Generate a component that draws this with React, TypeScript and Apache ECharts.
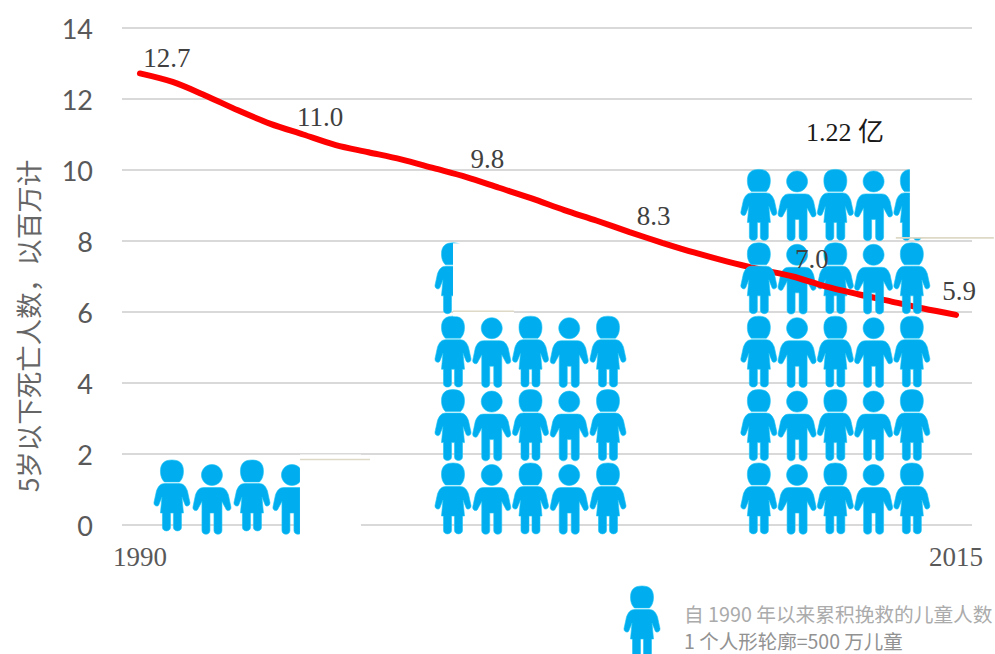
import React, { useEffect, useRef } from "react";
import * as echarts from "echarts";

const years = [1990,1991,1992,1993,1994,1995,1996,1997,1998,1999,2000,2001,2002,2003,2004,2005,2006,2007,2008,2009,2010,2011,2012,2013,2014,2015];
const deaths = [12.72,12.48,12.1,11.68,11.3,11.0,10.7,10.5,10.3,10.05,9.8,9.5,9.2,8.87,8.57,8.25,7.95,7.67,7.42,7.2,7.0,6.72,6.5,6.3,6.1,5.92];
const labelledYears = [1990,1995,2000,2005,2010,2015];
const labelTexts = ["12.7","11.0","9.8","8.3","7.0","5.9"];
const labelOffsets = [[27,-1],[17,-4],[21,-4],[24,-2],[19,-4],[3,-10]];
const xTickLabels = [1990, 2015];
const yTicks = { min: 0, max: 14, interval: 2 };

// one icon = 5 million children; cumulative lives saved shown at three moments
const iconGroupYears = [1990.98, 1999.59, 2008.96];
const iconGroupCounts = [3.7, 15.5, 24.45];
const columnSteps = [40, 38.75, 38.25];
const maskSizes = [[61, 70, 82], [61, 61, 73], [84, 84, 73]];
const maskBottomShift = [0, 0, -5];
const lineShift = [-77, -5, 0];
const frontIcons = [15, 18, 19];

const totalLabel = "1.22 亿";
const yName = "5岁以下死亡人数，以百万计";
const legendLine1 = "自 1990 年以来累积挽救的儿童人数";
const legendLine2 = "1 个人形轮廓=500 万儿童";

const BLUE = "#00AEEF";
const HALO = "#1CC3F4";
const GIRL =
  "M20 0C27 0 31.5 3 31.5 11C31.5 17 29.5 20 27.5 22H12.5C10.5 20 8.5 17 8.5 11C8.5 3 13 0 20 0Z" +
  "M13 23.5H27C32 23.5 34 27 35.5 31L38 42.5C38.5 46 34 47.5 33 44.5L30 37L31.5 53H29.5V67.5C29.5 72 21.5 72 21.5 67.5V53H18.5V67.5C18.5 72 10.5 72 10.5 67.5V53H8.5L10 37L7 44.5C6 47.5 1.5 46 2 42.5L4.5 31C6 27 8 23.5 13 23.5Z";
const BOY =
  "M20 1.5C25.8 1.5 30.5 6.2 30.5 12C30.5 17.8 25.8 22.5 20 22.5C14.2 22.5 9.5 17.8 9.5 12C9.5 6.2 14.2 1.5 20 1.5Z" +
  "M12 24.5H28C33 24.5 35 28 36.5 32L39 44C39.5 47.5 35 49 34 46L30 38.5V67.5C30 72.5 22 72.5 22 67.5V50H18V67.5C18 72.5 10 72.5 10 67.5V38.5L6 46C5 49 0.5 47.5 1 44L3.5 32C5 28 7 24.5 12 24.5Z";

echarts.graphic.registerShape("girlIcon", echarts.graphic.extendPath(GIRL, {}));
echarts.graphic.registerShape("boyIcon", echarts.graphic.extendPath(BOY, {}));

const ROW_STEP = 73.4;
const PER_ROW = 5;
const ICON_W = 40;
const FOOT_DROP = 10;
const iconStyle = { fill: BLUE, stroke: HALO, lineWidth: 0.6 };

function iconItems(group: number, count: number, origin: number[], layer: "back" | "front") {
  const children: any[] = [];
  const n = Math.ceil(count);
  for (let i = 0; i < n; i++) {
    const isFront = group === 2 && frontIcons.includes(i);
    if ((layer === "front") !== isFront) continue;
    const col = i % PER_ROW;
    const row = Math.floor(i / PER_ROW);
    const girl = col % 2 === 0;
    const lift = group === 0 && girl ? 3 : 0;
    children.push({
      type: girl ? "girlIcon" : "boyIcon",
      x: origin[0] + col * columnSteps[group] - ICON_W / 2,
      y: origin[1] + FOOT_DROP - 72 - row * ROW_STEP - lift,
      style: iconStyle,
    });
  }
  return children;
}

function maskItems(group: number, count: number, origin: number[]) {
  const last = Math.ceil(count) - 1;
  const col = last % PER_ROW;
  const row = Math.floor(last / PER_ROW);
  const frac = count - Math.floor(count);
  const left = origin[0] + col * columnSteps[group] - ICON_W / 2 + frac * ICON_W;
  const bottom = origin[1] + FOOT_DROP + 1.5 - row * ROW_STEP + maskBottomShift[group];
  const [w, lineW, h] = maskSizes[group];
  const lineY = bottom + lineShift[group];
  return [
    { type: "rect", shape: { x: left, y: bottom - h, width: w, height: h }, style: { fill: "#ffffff" } },
    {
      type: "line",
      shape: { x1: group === 2 ? left - 14 : left, y1: lineY, x2: left + lineW, y2: lineY },
      style: { stroke: "#DDD9C6", lineWidth: 1.6 },
    },
  ];
}

function makeRender(layer: "back" | "front") {
  return (params: any, api: any) => {
    const group = params.dataIndex;
    const count = api.value(1);
    const origin = api.coord([api.value(0), 0]);
    const children = iconItems(group, count, origin, layer);
    if (layer === "back") children.push(...maskItems(group, count, origin));
    return { type: "group", children };
  };
}

const serif = '"Liberation Serif", "Noto Sans CJK SC", serif';
const iconData = iconGroupYears.map((y, i) => [y, iconGroupCounts[i]]);

export default function App() {
  const ref = useRef<HTMLDivElement>(null);
  useEffect(() => {
    const chart = echarts.init(ref.current!, undefined, { renderer: "svg" });
    chart.setOption({
      animation: false,
      grid: { left: 122, right: 23, top: 28, bottom: 129, containLabel: false },
      xAxis: {
        type: "value",
        min: 1989.45,
        max: 2015.49,
        splitLine: { show: false },
        axisLine: { show: false },
        axisTick: { show: false },
        axisLabel: {
          customValues: xTickLabels,
          formatter: (v: number) => String(v),
          fontFamily: serif,
          fontSize: 27,
          color: "#595959",
          margin: 18,
          hideOverlap: false,
        },
      },
      yAxis: {
        type: "value",
        ...yTicks,
        axisLine: { show: false },
        axisTick: { show: false },
        splitLine: { lineStyle: { color: "#D9D9D9", width: 2 } },
        axisLabel: { fontFamily: "Lato", fontSize: 27, color: "#595959", margin: 29 },
      },
      series: [
        { type: "custom", z: 1, clip: false, data: iconData, renderItem: makeRender("back"), silent: true },
        {
          type: "line",
          z: 2,
          smooth: 0.3,
          showSymbol: true,
          showAllSymbol: true,
          symbol: "circle",
          symbolSize: 1,
          itemStyle: { color: "#FF0000" },
          lineStyle: { color: "#FF0000", width: 6, cap: "round" },
          data: years.map((y, i) => {
            const k = labelledYears.indexOf(y);
            return {
              value: [y, deaths[i]],
              label: k < 0 ? { show: false } : {
                show: true,
                position: "top",
                distance: 0,
                offset: labelOffsets[k],
                formatter: labelTexts[k],
                fontFamily: serif,
                fontSize: 27,
                color: "#404040",
              },
            };
          }),
        },
        { type: "custom", z: 3, clip: false, data: iconData, renderItem: makeRender("front"), silent: true },
      ],
      graphic: [
        {
          type: "text",
          x: 27,
          y: 326,
          rotation: Math.PI / 2,
          style: {
            text: yName,
            fontFamily: '"Noto Sans CJK SC"',
            fontSize: 26.5,
            fill: "#666666",
            textAlign: "center",
            textVerticalAlign: "middle",
          },
        },
        {
          type: "text",
          x: 845,
          y: 132,
          style: { text: totalLabel, fontFamily: serif, fontSize: 26, fill: "#1a1a1a", textAlign: "center", textVerticalAlign: "middle" },
        },
        { type: "girlIcon", x: 622, y: 586, style: iconStyle },
        {
          type: "text",
          x: 684,
          y: 613,
          style: { text: legendLine1, fontFamily: '"Noto Sans CJK SC"', fontSize: 19.7, fill: "#ABABAB", textAlign: "left", textVerticalAlign: "middle" },
        },
        {
          type: "text",
          x: 684,
          y: 640,
          style: { text: legendLine2, fontFamily: '"Noto Sans CJK SC"', fontSize: 19.5, fill: "#929292", textAlign: "left", textVerticalAlign: "middle" },
        },
      ],
    });
    return () => chart.dispose();
  }, []);
  return <div ref={ref} style={{ position: "absolute", left: 0, top: 0, width: 995, height: 654 }} />;
}
